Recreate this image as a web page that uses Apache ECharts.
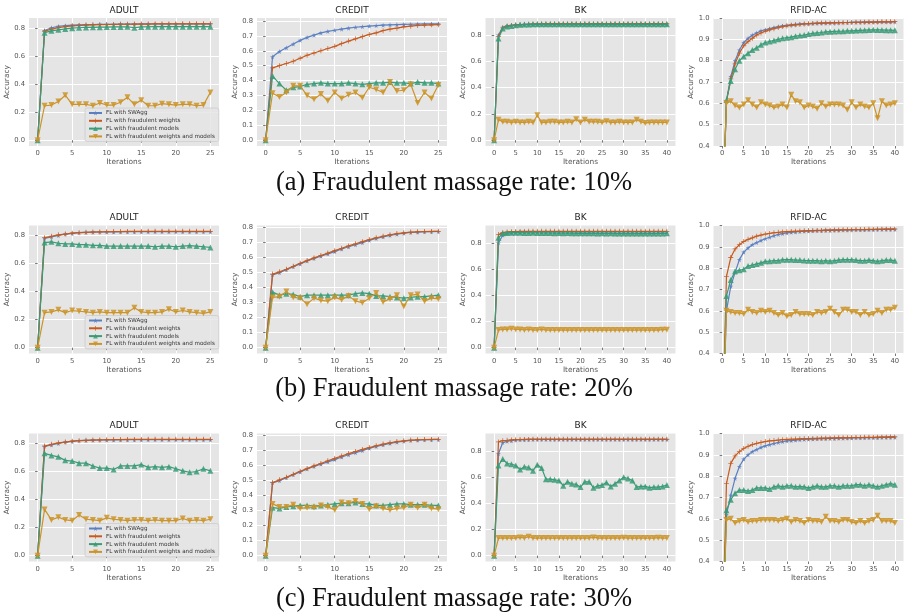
<!DOCTYPE html>
<html>
<head>
<meta charset="utf-8">
<script src="https://cdn.jsdelivr.net/npm/echarts@6/dist/echarts.min.js"></script>
<style>
html,body{margin:0;padding:0;background:#fff;}
#chart{width:908px;height:613px;}
</style>
</head>
<body>
<div id="chart"></div>
<script>
// ---------- labels ----------
const seriesNames = ['FL with SWAgg', 'FL with fraudulent weights', 'FL with fraudulent models', 'FL with fraudulent weights and models'];
const datasetTitles = ['ADULT', 'CREDIT', 'BK', 'RFID-AC'];
const captions = ['(a) Fraudulent massage rate: 10%', '(b) Fraudulent massage rate: 20%', '(c) Fraudulent massage rate: 30%'];
const xTicksShort = [0, 5, 10, 15, 20, 25];
const xTicksLong = [0, 5, 10, 15, 20, 25, 30, 35, 40];
const yTicksCoarse = [0, 0.2, 0.4, 0.6, 0.8];
const yTicksFine = [0, 0.1, 0.2, 0.3, 0.4, 0.5, 0.6, 0.7, 0.8];
const yTicksRfid = [0.4, 0.5, 0.6, 0.7, 0.8, 0.9, 1.0];

// ---------- row (a): 10% ----------
const swagg_a1 = [0, 0.780, 0.800, 0.810, 0.815, 0.818, 0.820, 0.822, 0.823, 0.824, 0.825, 0.825, 0.826, 0.826, 0.826, 0.827, 0.827, 0.827, 0.827, 0.828, 0.828, 0.828, 0.828, 0.828, 0.828, 0.828];
const weights_a1 = [0, 0.775, 0.790, 0.800, 0.808, 0.813, 0.816, 0.819, 0.821, 0.822, 0.823, 0.824, 0.825, 0.825, 0.826, 0.826, 0.826, 0.827, 0.827, 0.827, 0.827, 0.828, 0.828, 0.828, 0.828, 0.828];
const models_a1 = [0, 0.765, 0.778, 0.785, 0.792, 0.797, 0.800, 0.802, 0.803, 0.804, 0.805, 0.806, 0.806, 0.807, 0.800, 0.806, 0.807, 0.808, 0.808, 0.808, 0.808, 0.808, 0.808, 0.808, 0.808, 0.808];
const wm_a1 = [0, 0.245, 0.250, 0.275, 0.320, 0.255, 0.255, 0.255, 0.245, 0.265, 0.250, 0.250, 0.270, 0.305, 0.255, 0.285, 0.245, 0.245, 0.260, 0.255, 0.250, 0.255, 0.255, 0.245, 0.250, 0.340];

const swagg_c1 = [0, 0.560, 0.595, 0.620, 0.645, 0.670, 0.690, 0.705, 0.720, 0.730, 0.738, 0.745, 0.752, 0.758, 0.762, 0.766, 0.769, 0.772, 0.774, 0.776, 0.777, 0.778, 0.779, 0.780, 0.780, 0.781];
const weights_c1 = [0, 0.485, 0.500, 0.515, 0.530, 0.550, 0.570, 0.585, 0.600, 0.615, 0.630, 0.648, 0.665, 0.680, 0.695, 0.710, 0.720, 0.735, 0.745, 0.752, 0.760, 0.765, 0.770, 0.772, 0.774, 0.775];
const models_c1 = [0, 0.430, 0.380, 0.335, 0.355, 0.360, 0.375, 0.380, 0.385, 0.380, 0.380, 0.380, 0.385, 0.380, 0.375, 0.380, 0.385, 0.385, 0.390, 0.385, 0.385, 0.380, 0.390, 0.385, 0.385, 0.380];
const wm_c1 = [0, 0.315, 0.290, 0.320, 0.365, 0.365, 0.300, 0.275, 0.310, 0.265, 0.320, 0.280, 0.305, 0.320, 0.285, 0.355, 0.340, 0.320, 0.390, 0.330, 0.335, 0.375, 0.250, 0.320, 0.280, 0.370];

const swagg_b1 = [0, 0.800, 0.860, 0.870, 0.875, 0.878, 0.880, 0.882, 0.883, 0.884, 0.885, 0.885, 0.885, 0.886, 0.886, 0.886, 0.886, 0.886, 0.886, 0.886, 0.886, 0.886, 0.886, 0.886, 0.886, 0.886, 0.886, 0.886, 0.886, 0.886, 0.886, 0.886, 0.886, 0.886, 0.886, 0.886, 0.886, 0.886, 0.886, 0.886, 0.886];
const weights_b1 = [0, 0.790, 0.855, 0.868, 0.874, 0.877, 0.879, 0.881, 0.882, 0.883, 0.884, 0.884, 0.885, 0.885, 0.885, 0.885, 0.885, 0.885, 0.885, 0.885, 0.885, 0.885, 0.885, 0.885, 0.885, 0.885, 0.885, 0.885, 0.885, 0.885, 0.885, 0.885, 0.885, 0.885, 0.885, 0.885, 0.885, 0.885, 0.885, 0.885, 0.885];
const models_b1 = [0, 0.775, 0.850, 0.865, 0.870, 0.875, 0.878, 0.880, 0.881, 0.882, 0.882, 0.882, 0.882, 0.882, 0.882, 0.882, 0.882, 0.882, 0.882, 0.882, 0.882, 0.882, 0.882, 0.882, 0.882, 0.882, 0.882, 0.882, 0.882, 0.882, 0.882, 0.882, 0.882, 0.882, 0.882, 0.882, 0.882, 0.882, 0.882, 0.882, 0.882];
const wm_b1 = [0, 0.155, 0.140, 0.140, 0.135, 0.140, 0.135, 0.135, 0.140, 0.135, 0.190, 0.135, 0.135, 0.140, 0.140, 0.135, 0.135, 0.140, 0.135, 0.160, 0.135, 0.155, 0.140, 0.140, 0.140, 0.135, 0.145, 0.135, 0.135, 0.140, 0.135, 0.135, 0.135, 0.155, 0.140, 0.130, 0.135, 0.135, 0.135, 0.135, 0.135];

const swagg_r1 = [0, 0.610, 0.725, 0.800, 0.850, 0.885, 0.905, 0.920, 0.930, 0.940, 0.945, 0.950, 0.955, 0.960, 0.963, 0.966, 0.968, 0.970, 0.972, 0.973, 0.974, 0.975, 0.976, 0.976, 0.977, 0.977, 0.978, 0.978, 0.979, 0.979, 0.980, 0.980, 0.980, 0.981, 0.981, 0.981, 0.982, 0.982, 0.982, 0.982, 0.983];
const weights_r1 = [0, 0.610, 0.715, 0.785, 0.835, 0.870, 0.890, 0.905, 0.920, 0.930, 0.938, 0.945, 0.950, 0.955, 0.960, 0.963, 0.966, 0.968, 0.970, 0.972, 0.973, 0.974, 0.975, 0.976, 0.976, 0.977, 0.977, 0.978, 0.978, 0.979, 0.979, 0.980, 0.980, 0.980, 0.981, 0.981, 0.981, 0.982, 0.982, 0.982, 0.983];
const models_r1 = [0, 0.615, 0.705, 0.760, 0.800, 0.820, 0.835, 0.850, 0.860, 0.875, 0.885, 0.890, 0.895, 0.900, 0.905, 0.908, 0.910, 0.915, 0.918, 0.920, 0.925, 0.928, 0.930, 0.932, 0.935, 0.936, 0.937, 0.938, 0.938, 0.940, 0.940, 0.941, 0.942, 0.943, 0.944, 0.945, 0.944, 0.944, 0.943, 0.943, 0.942];
const wm_r1 = [0, 0.600, 0.610, 0.590, 0.580, 0.595, 0.615, 0.595, 0.580, 0.605, 0.595, 0.590, 0.580, 0.585, 0.595, 0.580, 0.640, 0.610, 0.605, 0.580, 0.590, 0.585, 0.575, 0.600, 0.585, 0.595, 0.595, 0.595, 0.590, 0.570, 0.605, 0.580, 0.595, 0.585, 0.580, 0.600, 0.530, 0.610, 0.590, 0.595, 0.600];

// ---------- row (b): 20% ----------
const swagg_a2 = [0, 0.780, 0.790, 0.800, 0.810, 0.815, 0.820, 0.822, 0.824, 0.825, 0.826, 0.826, 0.827, 0.827, 0.827, 0.828, 0.828, 0.828, 0.828, 0.828, 0.828, 0.828, 0.828, 0.828, 0.828, 0.828];
const weights_a2 = [0, 0.785, 0.795, 0.805, 0.810, 0.817, 0.820, 0.823, 0.825, 0.826, 0.827, 0.828, 0.828, 0.829, 0.829, 0.829, 0.830, 0.830, 0.830, 0.830, 0.830, 0.830, 0.830, 0.830, 0.830, 0.830];
const models_a2 = [0, 0.750, 0.755, 0.745, 0.740, 0.740, 0.735, 0.735, 0.730, 0.730, 0.725, 0.725, 0.725, 0.725, 0.725, 0.725, 0.725, 0.720, 0.725, 0.725, 0.720, 0.725, 0.728, 0.725, 0.720, 0.715];
const wm_a2 = [0, 0.250, 0.255, 0.270, 0.250, 0.265, 0.260, 0.255, 0.250, 0.255, 0.250, 0.250, 0.250, 0.250, 0.285, 0.255, 0.250, 0.250, 0.255, 0.275, 0.255, 0.265, 0.255, 0.250, 0.245, 0.255];

const swagg_c2 = [0, 0.485, 0.500, 0.520, 0.540, 0.558, 0.578, 0.595, 0.610, 0.625, 0.640, 0.657, 0.672, 0.686, 0.700, 0.715, 0.728, 0.738, 0.748, 0.756, 0.762, 0.767, 0.770, 0.772, 0.773, 0.774];
const weights_c2 = [0, 0.490, 0.505, 0.522, 0.542, 0.562, 0.580, 0.598, 0.614, 0.630, 0.646, 0.662, 0.678, 0.692, 0.706, 0.720, 0.732, 0.742, 0.752, 0.760, 0.765, 0.770, 0.772, 0.773, 0.774, 0.775];
const models_c2 = [0, 0.370, 0.350, 0.360, 0.355, 0.340, 0.350, 0.350, 0.350, 0.350, 0.350, 0.350, 0.350, 0.360, 0.365, 0.360, 0.345, 0.345, 0.340, 0.335, 0.330, 0.335, 0.340, 0.340, 0.345, 0.350];
const wm_c2 = [0, 0.335, 0.340, 0.375, 0.335, 0.330, 0.290, 0.330, 0.315, 0.310, 0.335, 0.320, 0.345, 0.310, 0.300, 0.330, 0.365, 0.305, 0.325, 0.350, 0.275, 0.350, 0.355, 0.310, 0.330, 0.325];

const swagg_b2 = [0, 0.800, 0.860, 0.875, 0.880, 0.882, 0.883, 0.884, 0.885, 0.885, 0.885, 0.885, 0.885, 0.885, 0.885, 0.885, 0.885, 0.885, 0.885, 0.885, 0.885, 0.885, 0.885, 0.885, 0.885, 0.885, 0.885, 0.885, 0.885, 0.885, 0.885, 0.885, 0.885, 0.885, 0.885, 0.885, 0.885, 0.885, 0.885, 0.885, 0.885];
const weights_b2 = [0, 0.865, 0.880, 0.885, 0.887, 0.888, 0.889, 0.889, 0.890, 0.890, 0.890, 0.890, 0.890, 0.890, 0.890, 0.890, 0.890, 0.890, 0.890, 0.890, 0.890, 0.890, 0.890, 0.890, 0.890, 0.890, 0.890, 0.890, 0.890, 0.890, 0.890, 0.890, 0.890, 0.890, 0.890, 0.890, 0.890, 0.890, 0.890, 0.890, 0.890];
const models_b2 = [0, 0.840, 0.875, 0.878, 0.880, 0.880, 0.879, 0.878, 0.878, 0.879, 0.878, 0.877, 0.878, 0.877, 0.876, 0.877, 0.876, 0.877, 0.876, 0.875, 0.876, 0.875, 0.876, 0.875, 0.874, 0.875, 0.874, 0.875, 0.874, 0.873, 0.874, 0.873, 0.874, 0.873, 0.874, 0.873, 0.874, 0.873, 0.874, 0.874, 0.875];
const wm_b2 = [0, 0.135, 0.140, 0.140, 0.145, 0.140, 0.140, 0.135, 0.140, 0.135, 0.135, 0.140, 0.135, 0.135, 0.135, 0.135, 0.135, 0.135, 0.135, 0.135, 0.135, 0.135, 0.135, 0.135, 0.135, 0.135, 0.135, 0.135, 0.135, 0.135, 0.135, 0.135, 0.135, 0.135, 0.135, 0.135, 0.135, 0.135, 0.135, 0.138, 0.138];

const swagg_r2 = [0, 0.600, 0.715, 0.780, 0.840, 0.875, 0.895, 0.910, 0.920, 0.930, 0.938, 0.945, 0.952, 0.958, 0.962, 0.965, 0.968, 0.970, 0.972, 0.973, 0.974, 0.975, 0.976, 0.976, 0.977, 0.977, 0.978, 0.978, 0.979, 0.979, 0.980, 0.980, 0.980, 0.981, 0.981, 0.981, 0.982, 0.982, 0.982, 0.982, 0.983];
const weights_r2 = [0, 0.760, 0.850, 0.890, 0.910, 0.925, 0.935, 0.942, 0.950, 0.955, 0.960, 0.963, 0.966, 0.968, 0.970, 0.971, 0.972, 0.973, 0.974, 0.975, 0.976, 0.976, 0.977, 0.977, 0.978, 0.978, 0.979, 0.979, 0.980, 0.980, 0.980, 0.981, 0.981, 0.981, 0.982, 0.982, 0.982, 0.982, 0.983, 0.983, 0.983];
const models_r2 = [0, 0.670, 0.745, 0.785, 0.790, 0.795, 0.810, 0.815, 0.820, 0.825, 0.832, 0.833, 0.835, 0.835, 0.840, 0.840, 0.840, 0.838, 0.838, 0.836, 0.835, 0.835, 0.835, 0.833, 0.835, 0.833, 0.835, 0.838, 0.840, 0.840, 0.840, 0.838, 0.835, 0.835, 0.838, 0.835, 0.832, 0.835, 0.838, 0.838, 0.835];
const wm_r2 = [0, 0.600, 0.595, 0.590, 0.590, 0.585, 0.605, 0.595, 0.590, 0.600, 0.595, 0.600, 0.590, 0.580, 0.590, 0.575, 0.580, 0.595, 0.585, 0.585, 0.585, 0.580, 0.595, 0.590, 0.595, 0.610, 0.595, 0.580, 0.605, 0.605, 0.595, 0.595, 0.580, 0.595, 0.580, 0.585, 0.600, 0.590, 0.605, 0.605, 0.615];

// ---------- row (c): 30% ----------
const swagg_a3 = [0, 0.780, 0.790, 0.800, 0.810, 0.815, 0.820, 0.822, 0.824, 0.825, 0.826, 0.826, 0.827, 0.827, 0.827, 0.828, 0.828, 0.828, 0.828, 0.828, 0.828, 0.828, 0.828, 0.828, 0.828, 0.828];
const weights_a3 = [0, 0.782, 0.795, 0.805, 0.810, 0.817, 0.820, 0.823, 0.825, 0.826, 0.827, 0.828, 0.828, 0.829, 0.829, 0.829, 0.830, 0.830, 0.830, 0.830, 0.830, 0.830, 0.830, 0.830, 0.830, 0.830];
const models_a3 = [0, 0.730, 0.715, 0.705, 0.680, 0.675, 0.660, 0.660, 0.640, 0.625, 0.625, 0.615, 0.640, 0.640, 0.640, 0.650, 0.630, 0.635, 0.630, 0.635, 0.620, 0.605, 0.595, 0.600, 0.620, 0.605];
const wm_a3 = [0, 0.330, 0.255, 0.275, 0.255, 0.250, 0.290, 0.260, 0.255, 0.250, 0.270, 0.260, 0.255, 0.250, 0.255, 0.255, 0.250, 0.255, 0.250, 0.250, 0.250, 0.265, 0.250, 0.255, 0.250, 0.260];

const swagg_c3 = [0, 0.485, 0.500, 0.520, 0.540, 0.558, 0.578, 0.595, 0.610, 0.625, 0.640, 0.657, 0.672, 0.686, 0.700, 0.715, 0.728, 0.738, 0.748, 0.756, 0.762, 0.767, 0.770, 0.772, 0.773, 0.774];
const weights_c3 = [0, 0.487, 0.505, 0.522, 0.542, 0.562, 0.580, 0.598, 0.614, 0.632, 0.648, 0.664, 0.680, 0.694, 0.708, 0.720, 0.732, 0.743, 0.752, 0.760, 0.765, 0.770, 0.772, 0.773, 0.774, 0.775];
const models_c3 = [0, 0.320, 0.315, 0.325, 0.330, 0.335, 0.335, 0.330, 0.335, 0.340, 0.345, 0.350, 0.350, 0.355, 0.345, 0.345, 0.335, 0.335, 0.340, 0.345, 0.345, 0.340, 0.340, 0.340, 0.335, 0.335];
const wm_c3 = [0, 0.345, 0.325, 0.325, 0.340, 0.315, 0.320, 0.320, 0.335, 0.325, 0.305, 0.355, 0.350, 0.365, 0.345, 0.310, 0.330, 0.315, 0.305, 0.315, 0.320, 0.340, 0.320, 0.340, 0.315, 0.310];

const swagg_b3 = [0, 0.780, 0.865, 0.875, 0.880, 0.885, 0.887, 0.888, 0.889, 0.889, 0.890, 0.890, 0.890, 0.890, 0.890, 0.890, 0.890, 0.890, 0.890, 0.890, 0.890, 0.890, 0.890, 0.890, 0.890, 0.890, 0.890, 0.890, 0.890, 0.890, 0.890, 0.890, 0.890, 0.890, 0.890, 0.890, 0.890, 0.890, 0.890, 0.890, 0.890];
const weights_b3 = [0, 0.870, 0.880, 0.882, 0.885, 0.887, 0.888, 0.889, 0.889, 0.890, 0.890, 0.890, 0.890, 0.890, 0.890, 0.890, 0.890, 0.890, 0.890, 0.890, 0.890, 0.890, 0.890, 0.890, 0.890, 0.890, 0.890, 0.890, 0.890, 0.890, 0.890, 0.890, 0.890, 0.890, 0.890, 0.890, 0.890, 0.890, 0.890, 0.890, 0.890];
const models_b3 = [0, 0.690, 0.740, 0.705, 0.700, 0.690, 0.660, 0.680, 0.675, 0.650, 0.695, 0.670, 0.585, 0.585, 0.580, 0.575, 0.535, 0.565, 0.550, 0.545, 0.525, 0.565, 0.565, 0.520, 0.535, 0.540, 0.560, 0.530, 0.550, 0.575, 0.600, 0.590, 0.575, 0.525, 0.530, 0.530, 0.520, 0.525, 0.525, 0.530, 0.540];
const wm_b3 = [0, 0.135, 0.135, 0.135, 0.135, 0.135, 0.140, 0.135, 0.145, 0.135, 0.135, 0.135, 0.135, 0.135, 0.135, 0.135, 0.135, 0.135, 0.135, 0.135, 0.135, 0.135, 0.135, 0.140, 0.135, 0.135, 0.135, 0.135, 0.135, 0.135, 0.138, 0.135, 0.135, 0.135, 0.135, 0.135, 0.135, 0.135, 0.138, 0.135, 0.135];

const swagg_r3 = [0, 0.620, 0.710, 0.790, 0.845, 0.880, 0.900, 0.915, 0.925, 0.935, 0.942, 0.948, 0.953, 0.958, 0.962, 0.965, 0.967, 0.969, 0.971, 0.972, 0.973, 0.974, 0.975, 0.976, 0.976, 0.977, 0.977, 0.978, 0.978, 0.979, 0.979, 0.980, 0.980, 0.980, 0.981, 0.981, 0.981, 0.982, 0.982, 0.982, 0.983];
const weights_r3 = [0, 0.765, 0.860, 0.895, 0.915, 0.930, 0.940, 0.948, 0.954, 0.958, 0.962, 0.965, 0.967, 0.969, 0.971, 0.972, 0.973, 0.974, 0.975, 0.976, 0.976, 0.977, 0.977, 0.978, 0.978, 0.979, 0.979, 0.980, 0.980, 0.980, 0.981, 0.981, 0.981, 0.982, 0.982, 0.982, 0.983, 0.983, 0.983, 0.984, 0.984];
const models_r3 = [0, 0.640, 0.690, 0.720, 0.735, 0.735, 0.730, 0.735, 0.745, 0.745, 0.745, 0.740, 0.750, 0.755, 0.750, 0.755, 0.755, 0.750, 0.752, 0.750, 0.745, 0.750, 0.755, 0.750, 0.750, 0.755, 0.755, 0.750, 0.755, 0.755, 0.755, 0.760, 0.760, 0.755, 0.760, 0.755, 0.750, 0.755, 0.760, 0.765, 0.760];
const wm_r3 = [0, 0.595, 0.600, 0.580, 0.590, 0.595, 0.585, 0.590, 0.590, 0.595, 0.595, 0.595, 0.595, 0.590, 0.595, 0.600, 0.585, 0.595, 0.590, 0.580, 0.595, 0.590, 0.590, 0.585, 0.610, 0.590, 0.590, 0.585, 0.595, 0.595, 0.585, 0.580, 0.590, 0.580, 0.590, 0.595, 0.615, 0.590, 0.590, 0.590, 0.580];

// ---------- panel definitions ----------
const panels = [
  {row: 0, col: 0, data: [swagg_a1, weights_a1, models_a1, wm_a1], xt: xTicksShort, yt: yTicksCoarse},
  {row: 0, col: 1, data: [swagg_c1, weights_c1, models_c1, wm_c1], xt: xTicksShort, yt: yTicksFine},
  {row: 0, col: 2, data: [swagg_b1, weights_b1, models_b1, wm_b1], xt: xTicksLong, yt: yTicksCoarse},
  {row: 0, col: 3, data: [swagg_r1, weights_r1, models_r1, wm_r1], xt: xTicksLong, yt: yTicksRfid, fixed: true},
  {row: 1, col: 0, data: [swagg_a2, weights_a2, models_a2, wm_a2], xt: xTicksShort, yt: yTicksCoarse},
  {row: 1, col: 1, data: [swagg_c2, weights_c2, models_c2, wm_c2], xt: xTicksShort, yt: yTicksFine},
  {row: 1, col: 2, data: [swagg_b2, weights_b2, models_b2, wm_b2], xt: xTicksLong, yt: yTicksCoarse},
  {row: 1, col: 3, data: [swagg_r2, weights_r2, models_r2, wm_r2], xt: xTicksLong, yt: yTicksRfid, fixed: true},
  {row: 2, col: 0, data: [swagg_a3, weights_a3, models_a3, wm_a3], xt: xTicksShort, yt: yTicksCoarse},
  {row: 2, col: 1, data: [swagg_c3, weights_c3, models_c3, wm_c3], xt: xTicksShort, yt: yTicksFine},
  {row: 2, col: 2, data: [swagg_b3, weights_b3, models_b3, wm_b3], xt: xTicksLong, yt: yTicksCoarse},
  {row: 2, col: 3, data: [swagg_r3, weights_r3, models_r3, wm_r3], xt: xTicksLong, yt: yTicksRfid, fixed: true}
];

// ---------- styling / layout ----------
const colors = ['#5b80c2', '#c65a1e', '#3a9b77', '#cc9428'];
const symbols = [
  'path://M50,0 L61,35 L98,35 L68,57 L79,91 L50,70 L21,91 L32,57 L2,35 L39,35 Z',
  'path://M42,0 H58 V42 H100 V58 H58 V100 H42 V58 H0 V42 H42 Z',
  'triangle',
  'path://M0,0 L100,0 L50,100 Z'
];
const symbolSizes = [5, 5, 6, 6];
const colLeft = [29, 257, 485.5, 713.5];
const plotW = 190;
const rowTop = [18, 225.5, 433.5];
const plotH = 128;
const captionY = [183, 389, 599];
const tickFont = 'DejaVu Sans';

const grid = [], xAxis = [], yAxis = [], series = [], graphic = [], legend = [];

panels.forEach((p, i) => {
  const left = colLeft[p.col], top = rowTop[p.row];
  grid.push({left: left, top: top, width: plotW, height: plotH, backgroundColor: '#e5e5e5', show: true, borderWidth: 0});
  const n = p.data[0].length - 1;
  const xPad = n * 0.05;
  let ymin, ymax;
  if (p.fixed) { ymin = p.yt[0]; ymax = p.yt[p.yt.length - 1]; }
  else {
    const all = [].concat(...p.data);
    const lo = Math.min(...all), hi = Math.max(...all);
    const pad = (hi - lo) * 0.05;
    ymin = lo - pad; ymax = hi + pad;
  }
  xAxis.push({
    type: 'value', gridIndex: i, min: -xPad, max: n + xPad,
    name: 'Iterations', nameLocation: 'middle', nameGap: 13,
    nameTextStyle: {color: '#555', fontSize: 7.4, fontFamily: tickFont},
    axisLine: {show: false},
    axisTick: {show: true, length: 2.5, lineStyle: {color: '#555', width: 0.8}, customValues: p.xt},
    axisLabel: {color: '#555', fontSize: 6.8, fontFamily: tickFont, margin: 4, customValues: p.xt, formatter: v => String(Math.round(v))},
    splitLine: {show: true, lineStyle: {color: '#ffffff', width: 1}}
  });
  yAxis.push({
    type: 'value', gridIndex: i, min: ymin, max: ymax,
    name: 'Accuracy', nameLocation: 'middle', nameGap: 17, nameRotate: 90,
    nameTextStyle: {color: '#555', fontSize: 7.4, fontFamily: tickFont},
    axisLine: {show: false},
    axisTick: {show: true, length: 2.5, lineStyle: {color: '#555', width: 0.8}, customValues: p.yt},
    axisLabel: {color: '#555', fontSize: 6.8, fontFamily: tickFont, margin: 4, customValues: p.yt, formatter: v => v.toFixed(1)},
    splitLine: {show: true, lineStyle: {color: '#ffffff', width: 1}}
  });
  p.data.forEach((arr, k) => {
    series.push({
      type: 'line', name: seriesNames[k], xAxisIndex: i, yAxisIndex: i,
      data: arr.map((v, x) => [x, v]),
      symbol: symbols[k], symbolSize: symbolSizes[k], showSymbol: true,
      lineStyle: {color: colors[k], width: 1.2},
      itemStyle: {color: colors[k], opacity: 0.85},
      clip: true, z: 2 + k, animation: false
    });
  });
  graphic.push({
    type: 'text', x: left + plotW / 2, y: top - 7.5,
    style: {text: datasetTitles[p.col], fill: '#222', font: '9px "DejaVu Sans"', textAlign: 'center', textVerticalAlign: 'middle'}
  });
});

rowTop.forEach((t, r) => {
  legend.push({
    show: true, orient: 'vertical', left: 85, top: t + 90,
    data: seriesNames, itemWidth: 13, itemHeight: 6, itemGap: 1.8,
    padding: [2, 4, 2, 3],
    backgroundColor: 'rgba(229,229,229,0.85)', borderColor: '#cccccc', borderWidth: 0.8, borderRadius: 2,
    textStyle: {fontSize: 5.6, color: '#333', fontFamily: tickFont, padding: [0, 0, 0, -1]},
    selectedMode: false
  });
  graphic.push({
    type: 'text', x: 454, y: captionY[r],
    style: {text: captions[r], fill: '#111', font: '26.5px "Liberation Serif"', textAlign: 'center', textVerticalAlign: 'middle'}
  });
});

const chart = echarts.init(document.getElementById('chart'), null, {renderer: 'canvas'});
chart.setOption({
  animation: false,
  backgroundColor: '#ffffff',
  grid, xAxis, yAxis, series, legend, graphic
});
</script>
</body>
</html>
